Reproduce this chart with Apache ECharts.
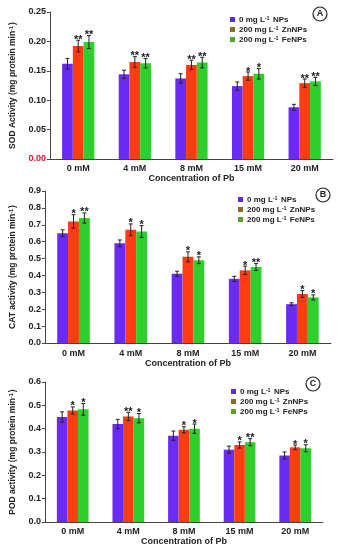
<!DOCTYPE html>
<html><head><meta charset="utf-8">
<script src="https://cdn.jsdelivr.net/npm/echarts@6/dist/echarts.min.js"></script>
<style>html,body{margin:0;padding:0;background:#fff}#c{width:339px;height:550px}</style>
</head><body><div id="c"></div>
<script>
const categories = ['0 mM','4 mM','8 mM','15 mM','20 mM'];
const seriesNames = ['0 mg L-1 NPs','200 mg L-1 ZnNPs','200 mg L-1 FeNPs'];

// Panel A: SOD
const sodNone = [0.162,0.144,0.137,0.124,0.088];
const sodZn   = [0.192,0.165,0.160,0.141,0.129];
const sodFe   = [0.199,0.163,0.164,0.145,0.132];
const sodNoneErr = [0.009,0.007,0.008,0.007,0.005];
const sodZnErr   = [0.010,0.009,0.008,0.007,0.007];
const sodFeErr   = [0.011,0.008,0.009,0.009,0.007];
const sodZnStars = ['**','**','**','*','**'];
const sodFeStars = ['**','**','**','*','**'];

// Panel B: CAT
const catNone = [0.65,0.59,0.41,0.38,0.23];
const catZn   = [0.72,0.67,0.51,0.43,0.29];
const catFe   = [0.74,0.66,0.49,0.45,0.27];
const catNoneErr = [0.02,0.02,0.015,0.015,0.008];
const catZnErr   = [0.04,0.035,0.03,0.025,0.02];
const catFeErr   = [0.03,0.035,0.02,0.02,0.015];
const catZnStars = ['*','*','*','*','*'];
const catFeStars = ['**','*','*','**','*'];

// Panel C: POD
const podNone = [0.45,0.42,0.37,0.31,0.285];
const podZn   = [0.478,0.452,0.395,0.33,0.32];
const podFe   = [0.483,0.445,0.40,0.342,0.316];
const podNoneErr = [0.022,0.02,0.02,0.015,0.015];
const podZnErr   = [0.015,0.018,0.013,0.013,0.01];
const podFeErr   = [0.025,0.02,0.02,0.015,0.015];
const podZnStars = ['*','**','*','*','*'];
const podFeStars = ['*','*','*','**','*'];

const yTitles = ['SOD Activity (mg protein min-1)','CAT activity (mg protein min-1)','POD activity (mg protein min-1)'];
const yMax = [0.25,0.9,0.6];
const yInterval = [0.05,0.1,0.1];
const yDecimals = [2,1,1];
const panelLetters = ['A','B','C'];

const panels = [
  {vals:[sodNone,sodZn,sodFe], errs:[sodNoneErr,sodZnErr,sodFeErr], stars:[null,sodZnStars,sodFeStars]},
  {vals:[catNone,catZn,catFe], errs:[catNoneErr,catZnErr,catFeErr], stars:[null,catZnStars,catFeStars]},
  {vals:[podNone,podZn,podFe], errs:[podNoneErr,podZnErr,podFeErr], stars:[null,podZnStars,podFeStars]}
];

const barColors = ['#6a2cf5','#ff3c12','#2ecf2a'];
const legendColors = ['#5a2ce0','#8c6a2c','#5aa22a'];
const FONT = 'Liberation Sans, Arial, sans-serif';
const BW = 0.19;

const supFmt = s => s.replace('-1', '{sup|-1}').replace(/^(.*?)\{sup/, '{t|$1}{sup').replace(/\}([^{}]*)$/, '}{t|$1}');
const mkRich = (fs) => ({
  t:{fontFamily:FONT, fontWeight:'bold', fontSize:fs, color:'#222'},
  sup:{fontFamily:FONT, fontWeight:'bold', fontSize:5.5, color:'#222', verticalAlign:'top', padding:[0,1,4,0]}
});

const grids = [
  {left:42, top:12, right:6, height:147},
  {left:32, top:191, right:8, height:152},
  {left:41, top:382, right:16, height:140}
];
const yNameGap = [24,19,17];
const xNameGap = [13,15,12];
const xLabelMargin = [5,6,5];
const legendPos = [
  {left:225, top:10},
  {left:233, top:190},
  {left:226, top:382}
];
const circlePos = [[320,14],[323,195],[313,384]];

const xAxes = [], yAxes = [], series = [], legends = [], graphics = [];
panels.forEach((p, pi) => {
  xAxes.push({
    type:'category', gridIndex:pi, data:categories,
    axisLine:{lineStyle:{color:'#444',width:1}}, axisTick:{show:false},
    axisLabel:{fontFamily:FONT, fontWeight:'bold', fontSize:9, color:'#222', margin:xLabelMargin[pi]},
    name:'Concentration of Pb', nameLocation:'middle', nameGap:xNameGap[pi],
    nameTextStyle:{fontFamily:FONT, fontWeight:'bold', fontSize:9, color:'#222'}
  });
  yAxes.push({
    type:'value', gridIndex:pi, min:0, max:yMax[pi], interval:yInterval[pi],
    axisLine:{show:true, lineStyle:{color:'#444',width:1}},
    axisTick:{show:true, length:3, lineStyle:{color:'#444'}},
    splitLine:{show:false},
    axisLabel:{fontFamily:FONT, fontWeight:'bold', fontSize:9, margin:4,
      formatter:v => v.toFixed(yDecimals[pi]),
      color:(v) => (pi === 0 && Number(v) === 0) ? '#e8102a' : '#222'},
    name:supFmt(yTitles[pi]), nameLocation:'middle', nameGap:yNameGap[pi], nameRotate:90,
    nameTextStyle:{fontFamily:FONT, fontWeight:'bold', fontSize:8.5, color:'#222', rich:mkRich(8.5)}
  });
  p.vals.forEach((vals, si) => {
    series.push({
      type:'bar', name:seriesNames[si], xAxisIndex:pi, yAxisIndex:pi,
      data:vals, barWidth:(BW*100)+'%', barGap:'0%',
      itemStyle:{color:barColors[si]}, z:2
    });
  });
  p.vals.forEach((vals, si) => {
    const errs = p.errs[si], stars = p.stars[si];
    series.push({
      type:'custom', xAxisIndex:pi, yAxisIndex:pi, z:5, silent:true,
      data: vals.map((v,i)=>[i, v, errs[i]]),
      renderItem:(params, api) => {
        const i = api.value(0), v = api.value(1), e = api.value(2);
        const band = api.size([1,0])[0];
        const off = (si-1)*band*BW;
        const top = api.coord([i, v+e]);
        const bot = api.coord([i, v-e]);
        const x = top[0] + off;
        const cap = 2;
        const children = [
          {type:'line', shape:{x1:x,y1:top[1],x2:x,y2:bot[1]}, style:{stroke:'#222',lineWidth:1}},
          {type:'line', shape:{x1:x-cap,y1:top[1],x2:x+cap,y2:top[1]}, style:{stroke:'#222',lineWidth:1}},
          {type:'line', shape:{x1:x-cap,y1:bot[1],x2:x+cap,y2:bot[1]}, style:{stroke:'#222',lineWidth:1}}
        ];
        if (stars && stars[params.dataIndex]) {
          children.push({type:'text', style:{text:stars[params.dataIndex], x:x, y:top[1]+5,
            textAlign:'center', textVerticalAlign:'bottom', fill:'#1a1a1a',
            font:'bold 11px '+FONT}});
        }
        return {type:'group', children};
      }
    });
  });
  legends.push({
    orient:'vertical', left:legendPos[pi].left, top:legendPos[pi].top,
    itemWidth:5, itemHeight:5, itemGap:1, icon:'rect', selectedMode:false,
    formatter: n => supFmt(n),
    textStyle:{fontFamily:FONT, fontWeight:'bold', fontSize:8, color:'#222', lineHeight:9, padding:[0,0,0,-1], rich:mkRich(8)},
    data: seriesNames.map((n, si) => ({name:n, itemStyle:{color:legendColors[si]}}))
  });
  graphics.push({type:'circle', shape:{cx:circlePos[pi][0], cy:circlePos[pi][1], r:7},
    style:{fill:'#fff', stroke:'#222', lineWidth:1.2}});
  graphics.push({type:'text', style:{text:panelLetters[pi], x:circlePos[pi][0], y:circlePos[pi][1],
    textAlign:'center', textVerticalAlign:'middle', font:'bold 9px '+FONT, fill:'#222'}});
});

const chart = echarts.init(document.getElementById('c'), null, {renderer:'canvas'});
chart.setOption({
  backgroundColor:'#fff', animation:false,
  grid:grids, xAxis:xAxes, yAxis:yAxes, series, legend:legends, graphic:graphics
});
</script></body></html>
